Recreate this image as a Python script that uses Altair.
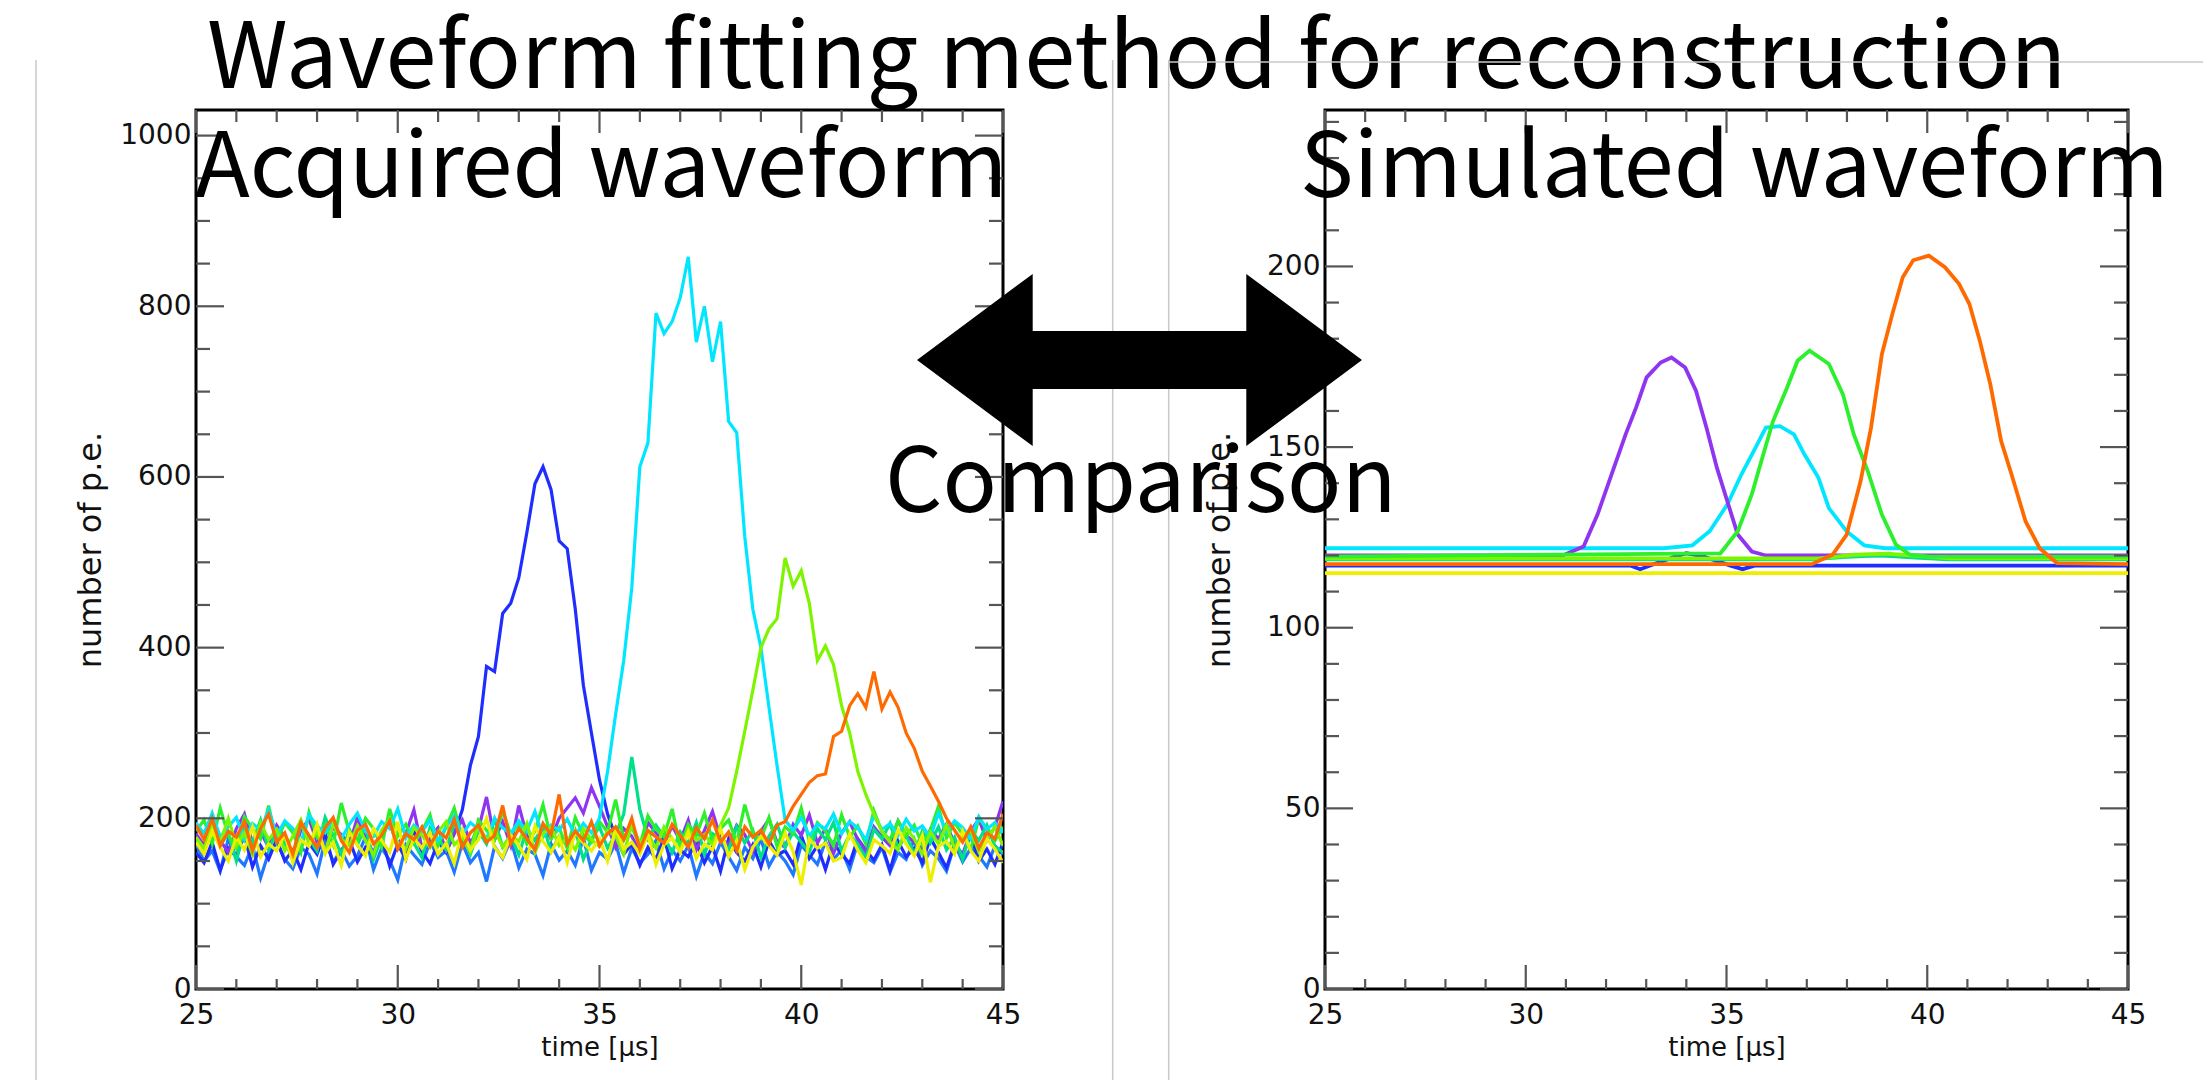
import altair as alt
import pandas as pd

# ---------------- data ----------------
SERIES = ["azure", "blue", "purple", "teal", "green", "cyan", "yellowgreen", "yellow", "orange"]
COLORS = ["#1f78ff", "#1f2eff", "#8f35f0", "#00e08a", "#2cf02c", "#00e6ff", "#7ef500", "#eeee00", "#ff6a00"]

LEFT_T0 = 25.0
LEFT_STEP = 0.2

LEFT_PURPLE = [182, 168, 195, 174, 160, 188, 205, 171, 184, 166,
               192, 178, 158, 186, 199, 172, 163, 190, 181, 169,
               201, 176, 160, 185, 194, 170, 182, 210, 165, 178,
               189, 162, 183, 198, 171, 187, 225, 175, 196, 168,
               215, 180, 165, 192, 176, 200, 212, 224, 206, 236,
               214, 190, 166, 188, 179, 160, 195, 183, 170, 191,
               174, 198, 163, 186, 208, 177, 169, 192, 181, 161,
               185, 199, 172, 166, 193, 180, 204, 171, 188, 159,
               183, 196, 175, 162, 190, 178, 168, 197, 180, 172,
               164, 187, 176, 193, 170, 158, 185, 199, 174, 190, 220]
LEFT_BLUE = [160, 148, 172, 139, 165, 155, 180, 143, 168, 152,
             175, 150, 163, 140, 171, 158, 183, 146, 162, 175,
             149, 166, 157, 178, 144, 170, 152, 185, 161, 147,
             173, 160,
             182, 210, 262, 296, 378, 372, 440, 452, 482, 535, 592, 612, 585, 525, 516, 445, 356, 300, 245, 205, 178,
             158, 170, 145, 166, 152, 178, 141,
             163, 155, 172, 148, 167, 138, 176, 160, 150, 169,
             143, 174, 157, 162, 146, 180, 153, 168, 140, 171,
             158, 147, 176, 163, 151, 169, 139, 173, 155, 165,
             148, 177, 160, 142, 170, 156, 181, 150, 164, 146, 172]
LEFT_AZURE = [170, 150, 162, 138, 176, 155, 145, 168, 130, 160,
              172, 152, 141, 166, 158, 135, 174, 149, 163, 144,
              156, 178, 140, 165, 151, 128, 169, 157, 146, 173,
              154, 162, 137, 171, 148, 160, 126, 167, 153, 175,
              142, 164, 158, 133, 170, 151, 162, 145, 177, 139,
              160, 152, 171, 136, 165, 148, 158, 174, 141, 163,
              150, 168, 132, 160, 147, 172, 155, 139, 166, 153,
              176, 144, 161, 150, 134, 169, 157, 146, 173, 152,
              163, 140, 171, 155, 148, 166, 137, 160, 152, 175,
              145, 162, 153, 138, 170, 149, 165, 156, 143, 168, 158]
LEFT_CYAN = [195, 182, 206, 178, 190, 201, 175, 194, 186, 210,
             180, 197, 188, 172, 204, 191, 183, 199, 176, 193,
             206, 185, 179, 196, 188, 211, 177, 192, 184, 198,
             174, 190, 203, 181, 195, 187, 176, 200, 189, 182,
             197, 185, 208, 178, 192, 186, 199, 180, 194, 183,
             200, 255, 322, 385, 470, 612, 640, 792, 768, 782, 810, 858,
             758, 800, 735, 782, 665, 652, 530, 445, 400, 330, 262, 198,
             186, 201, 179, 193, 188, 205,
             182, 196, 189, 175, 203, 187, 194, 180, 199, 185,
             191, 178, 206, 184, 197, 189, 176, 202, 187, 195, 183]
LEFT_TEAL = [175, 160, 192, 168, 183, 150, 188, 172, 198, 163,
             185, 170, 155, 193, 176, 162, 201, 180, 158, 187,
             169, 190, 152, 178, 196, 165, 183, 171, 154, 189,
             176, 163, 194, 181, 158, 185, 170, 199, 166, 180,
             157, 188, 174, 192, 161, 179, 168, 186, 152, 176,
             190, 165, 181, 205, 272, 210, 176, 192, 178, 160,
             184, 170, 195, 158, 182, 176, 163, 190, 171, 186,
             154, 179, 193, 166, 184, 172, 160, 188, 175, 195,
             162, 181, 170, 153, 187, 176, 194, 165, 180, 158,
             185, 171, 190, 163, 178, 152, 186, 174, 192, 167, 160]
LEFT_GREEN = [185, 198, 170, 212, 180, 165, 202, 188, 176, 215,
              172, 195, 183, 160, 207, 178, 192, 169, 218, 184,
              174, 200, 188, 166, 211, 179, 193, 171, 185, 204,
              168, 190, 212, 177, 163, 198, 186, 175, 209, 181,
              194, 170, 185, 216, 176, 189, 165, 201, 180, 172,
              196, 184, 222, 175, 190, 168, 203, 187, 179, 211,
              166, 193, 180, 206, 174, 188, 198, 171, 216, 183,
              176, 201, 167, 190, 182, 212, 173, 195, 185, 168,
              204, 178, 191, 170, 209, 184, 175, 197, 180, 192,
              169, 186, 214, 177, 195, 181, 163, 200, 188, 174, 190]
LEFT_YELLOWGREEN = [178, 165, 190, 172, 200, 168, 183, 158, 195, 175,
                    187, 162, 179, 198, 170, 185, 160, 193, 176, 168,
                    191, 174, 157, 186, 199, 171, 164, 189, 180, 166,
                    184, 196, 169, 178, 161, 192, 175, 187, 166, 180,
                    173, 194, 160, 182, 190, 168, 177, 163, 188, 175,
                    167, 185, 179, 158, 193, 171, 182, 165, 190, 176,
                    162, 187, 174, 181, 169,
                    192, 212, 255, 302, 350, 400, 422, 434, 505, 472, 490,
                    452, 385, 402, 380, 332, 300, 255, 228, 205, 185,
                    172, 163, 189, 176, 158, 184, 170, 192, 165, 179, 186, 161, 175, 190, 168]
LEFT_YELLOW = [172, 158, 185, 166, 150, 178, 163, 190, 155, 170,
               162, 181, 148, 175, 167, 193, 159, 172, 145, 184,
               169, 156, 188, 174, 160, 196, 152, 177, 165, 183,
               158, 171, 147, 186, 163, 175, 200, 166, 154, 180,
               168, 152, 191, 173, 160, 178, 148, 185, 171, 162,
               176, 150, 188, 164, 172, 158, 181, 146, 169, 177,
               160, 184, 153, 170, 163, 188, 155, 174, 140, 166,
               179, 168, 157, 183, 161, 122, 176, 165, 171, 150,
               154, 182, 163, 148, 175, 168, 159, 187, 170, 156,
               180, 125, 167, 173, 158, 185, 162, 150, 176, 164, 148]
LEFT_ORANGE = [192, 175, 200, 168, 185, 178, 196, 162, 188, 205,
               172, 183, 158, 195, 180, 166, 189, 201, 174, 160,
               186, 193, 170, 180, 197, 164, 182, 175, 190, 168,
               185, 177, 199, 166, 183, 192, 172, 180, 215, 170,
               188, 176, 163, 194, 181, 228, 170, 185, 174, 196,
               168, 182, 190, 175, 200, 164, 186, 178, 171, 193,
               180, 166, 189, 176, 198, 172, 184, 162, 190, 178,
               186, 170, 192,
               196, 214, 228, 242, 250, 252, 296, 302, 332, 346, 330,
               372, 328, 348, 330, 300, 282, 255, 238, 220, 200, 186,
               172, 190, 165, 183, 176, 205]

LEFT_DATA = [("azure", LEFT_AZURE), ("blue", LEFT_BLUE), ("purple", LEFT_PURPLE),
             ("teal", LEFT_TEAL), ("green", LEFT_GREEN), ("cyan", LEFT_CYAN),
             ("yellowgreen", LEFT_YELLOWGREEN), ("yellow", LEFT_YELLOW), ("orange", LEFT_ORANGE)]

# simulated (fitted) waveforms: (time, value) points
RIGHT_CYAN_T = [25, 33.44, 34.15, 34.58, 35.02, 35.37, 35.72, 35.98, 36.33, 36.68, 36.94, 37.29, 37.55, 37.99, 38.43, 38.95, 45]
RIGHT_CYAN_V = [122, 122, 122.8, 126.7, 134.1, 142.4, 149.8, 155.4, 155.8, 153.5, 148, 141.5, 133.1, 126.7, 122.8, 122, 122]
RIGHT_PURPLE_T = [25, 30.92, 31.44, 31.79, 32.14, 32.49, 32.75, 33.01, 33.36, 33.63, 33.97, 34.24, 34.5, 34.76, 35.02, 35.28, 35.63, 35.98, 45]
RIGHT_PURPLE_V = [120, 120, 122.5, 131.4, 142.5, 153.6, 161, 169.3, 173.4, 174.8, 172, 165.6, 155.4, 144.3, 135, 125.8, 121.1, 120, 120]
RIGHT_GREEN_T = [25, 34.85, 35.28, 35.63, 35.89, 36.16, 36.51, 36.77, 37.07, 37.55, 37.9, 38.17, 38.52, 38.87, 39.22, 39.57, 40.0, 45]
RIGHT_GREEN_V = [119.7, 120.6, 126.7, 136.9, 147, 157.2, 166.5, 173.9, 176.7, 173, 164.6, 153.5, 143.3, 131.3, 123, 120.2, 119.7, 119.7]
RIGHT_ORANGE_T = [25, 37.12, 37.64, 37.99, 38.34, 38.6, 38.87, 39.13, 39.39, 39.65, 40.04, 40.44, 40.79, 41.05, 41.31, 41.57, 41.84, 42.1, 42.45, 42.8, 43.23, 45]
RIGHT_ORANGE_V = [117.6, 117.6, 120.2, 125.7, 140.6, 155.4, 175.7, 186.8, 197, 201.7, 203, 199.8, 195.2, 189.6, 179.4, 167.4, 151.7, 142.4, 129.4, 122, 117.9, 117.6]
RIGHT_BLUE_T = [25, 32.6, 32.85, 33.1, 33.7, 34.0, 34.4, 35.1, 35.4, 35.7, 45]
RIGHT_BLUE_V = [117.2, 117.2, 116.2, 117.2, 119.6, 120.6, 119.8, 117.2, 116.2, 117.2, 117.2]
RIGHT_TEAL_T = [25, 37.1, 38.0, 38.8, 39.6, 40.5, 45]
RIGHT_TEAL_V = [118.9, 118.9, 119.6, 120.0, 119.5, 118.9, 118.9]
RIGHT_YELLOWGREEN_T = [25, 37.3, 38.2, 39.0, 39.8, 40.6, 45]
RIGHT_YELLOWGREEN_V = [119.2, 119.2, 120.2, 120.5, 119.8, 119.2, 119.2]
RIGHT_YELLOW_T = [25, 45]
RIGHT_YELLOW_V = [115.1, 115.1]

RIGHT_DATA = [("blue", RIGHT_BLUE_T, RIGHT_BLUE_V), ("cyan", RIGHT_CYAN_T, RIGHT_CYAN_V),
              ("purple", RIGHT_PURPLE_T, RIGHT_PURPLE_V), ("teal", RIGHT_TEAL_T, RIGHT_TEAL_V),
              ("yellowgreen", RIGHT_YELLOWGREEN_T, RIGHT_YELLOWGREEN_V), ("green", RIGHT_GREEN_T, RIGHT_GREEN_V),
              ("yellow", RIGHT_YELLOW_T, RIGHT_YELLOW_V), ("orange", RIGHT_ORANGE_T, RIGHT_ORANGE_V)]

X_MAJOR = [25, 30, 35, 40, 45]
X_MINOR = [26, 27, 28, 29, 31, 32, 33, 34, 36, 37, 38, 39, 41, 42, 43, 44]
LEFT_Y_MAJOR = [0, 200, 400, 600, 800, 1000]
LEFT_Y_MINOR = [50, 100, 150, 250, 300, 350, 450, 500, 550, 650, 700, 750, 850, 900, 950]
RIGHT_Y_MAJOR = [0, 50, 100, 150, 200]
RIGHT_Y_MINOR = [10, 20, 30, 40, 60, 70, 80, 90, 110, 120, 130, 140, 160, 170, 180, 190, 210, 220, 230, 240]

TITLE = "Waveform fitting method for reconstruction"
LEFT_LABEL = "Acquired waveform"
RIGHT_LABEL = "Simulated waveform"
MIDDLE_LABEL = "Comparison"
X_TITLE = "time [µs]"
Y_TITLE = "number of p.e."

# ---------------- layout / style ----------------
W_L, W_R, H = 807, 803, 879
SPACING = 322
LEFT_Y_DOMAIN = [0, 1030]
RIGHT_Y_DOMAIN = [0, 243.3]
FONT_TEXT = "Noto Sans CJK JP"
FONT_AXIS = "DejaVu Sans"
TITLE_SIZE = 92
TEXT_SIZE = 90
TICK_STYLE = dict(color="#555555", strokeWidth=2.2)
GRAY = "#c8c8c8"

ARROW_PATH = ("M -1 0 L -0.48 -0.387 L -0.48 -0.13 L 0.48 -0.13 L 0.48 -0.387 "
              "L 1 0 L 0.48 0.387 L 0.48 0.13 L -0.48 0.13 L -0.48 0.387 Z")

color_enc = alt.Color("series:N", scale=alt.Scale(domain=SERIES, range=COLORS), legend=None)


def x_enc():
    return alt.X("time:Q", scale=alt.Scale(domain=[25, 45], nice=False, zero=False),
                 axis=alt.Axis(values=X_MAJOR, title=X_TITLE, grid=False, ticks=False, tickSize=0,
                               domain=False, labelFont=FONT_AXIS, labelFontSize=28, labelColor="#111",
                               labelPadding=12, labelFlush=False, titleFont=FONT_AXIS, titleFontSize=26,
                               titleFontWeight="normal", titleColor="#111", titlePadding=5,
                               minExtent=40, maxExtent=40, format="d"))


def y_enc(domain, values):
    return alt.Y("value:Q", scale=alt.Scale(domain=domain, nice=False, zero=False),
                 axis=alt.Axis(values=values, title=Y_TITLE, grid=False, ticks=False, tickSize=0,
                               domain=False, labelFont=FONT_AXIS, labelFontSize=28, labelColor="#111",
                               labelPadding=5, labelFlush=False, titleFont=FONT_AXIS, titleFontSize=32,
                               titleFontWeight="normal", titleColor="#111", titlePadding=19,
                               minExtent=70, maxExtent=70, format="d"))


def tick_layers(width, ydom, y_major, y_minor):
    ymaj = pd.DataFrame({"value": y_major})
    ymin = pd.DataFrame({"value": y_minor})
    xmaj = pd.DataFrame({"time": X_MAJOR})
    xmin = pd.DataFrame({"time": X_MINOR})
    Y = lambda: y_enc(ydom, y_major)
    return [
        alt.Chart(ymaj).mark_rule(**TICK_STYLE).encode(y=Y(), x=alt.value(0), x2=alt.value(28)),
        alt.Chart(ymin).mark_rule(**TICK_STYLE).encode(y=Y(), x=alt.value(0), x2=alt.value(14)),
        alt.Chart(ymaj).mark_rule(**TICK_STYLE).encode(y=Y(), x=alt.value(width - 28), x2=alt.value(width)),
        alt.Chart(ymin).mark_rule(**TICK_STYLE).encode(y=Y(), x=alt.value(width - 14), x2=alt.value(width)),
        alt.Chart(xmaj).mark_rule(**TICK_STYLE).encode(x=x_enc(), y=alt.value(H - 24), y2=alt.value(H)),
        alt.Chart(xmin).mark_rule(**TICK_STYLE).encode(x=x_enc(), y=alt.value(H - 10), y2=alt.value(H)),
        alt.Chart(xmaj).mark_rule(**TICK_STYLE).encode(x=x_enc(), y=alt.value(0), y2=alt.value(23)),
        alt.Chart(xmin).mark_rule(**TICK_STYLE).encode(x=x_enc(), y=alt.value(0), y2=alt.value(12)),
    ]


def text_layer(s, x, y, size=TEXT_SIZE):
    return alt.Chart(pd.DataFrame({"label": [s]})).mark_text(
        font=FONT_TEXT, fontSize=size, align="left", baseline="alphabetic", color="black"
    ).encode(text="label:N", x=alt.value(x), y=alt.value(y))


def vline(x, y1, y2):
    return alt.Chart(pd.DataFrame({"a": [0]})).mark_rule(color=GRAY, strokeWidth=1.5).encode(
        x=alt.value(x), y=alt.value(y1), y2=alt.value(y2))


def hline(y, x1, x2):
    return alt.Chart(pd.DataFrame({"a": [0]})).mark_rule(color=GRAY, strokeWidth=1.5).encode(
        y=alt.value(y), x=alt.value(x1), x2=alt.value(x2))


# ---------------- left panel ----------------
left_rows = []
for name, vals in LEFT_DATA:
    for i, v in enumerate(vals):
        left_rows.append({"series": name, "time": round(LEFT_T0 + LEFT_STEP * i, 1), "value": v})
left_df = pd.DataFrame(left_rows)

left_lines = alt.Chart(left_df).mark_line(strokeWidth=3.2, clip=True).encode(
    x=x_enc(), y=y_enc(LEFT_Y_DOMAIN, LEFT_Y_MAJOR), color=color_enc)

pin = alt.Chart(pd.DataFrame({"a": [0]})).mark_rule(opacity=0, strokeWidth=0.1).encode(
    x=alt.value(-194), x2=alt.value(-190), y=alt.value(-108))

left = alt.layer(
    pin,
    vline(-160, -50, 970),
    left_lines,
    *tick_layers(W_L, LEFT_Y_DOMAIN, LEFT_Y_MAJOR, LEFT_Y_MINOR),
    text_layer(TITLE, 11, -22, TITLE_SIZE),
    text_layer(LEFT_LABEL, -1, 87),
).properties(width=W_L, height=H)

# ---------------- right panel ----------------
right_rows = []
for name, ts, vs in RIGHT_DATA:
    for t, v in zip(ts, vs):
        right_rows.append({"series": name, "time": t, "value": v})
right_df = pd.DataFrame(right_rows)

right_lines = alt.Chart(right_df).mark_line(strokeWidth=3.8, clip=True).encode(
    x=x_enc(), y=y_enc(RIGHT_Y_DOMAIN, RIGHT_Y_MAJOR), color=color_enc)

arrow = alt.Chart(pd.DataFrame({"a": [0]})).mark_point(
    shape=ARROW_PATH, size=198025, filled=True, color="black", opacity=1, strokeWidth=0
).encode(x=alt.value(-185.5), y=alt.value(250))

right = alt.layer(
    vline(-212.3, -50, 970),
    vline(-156.3, -50, 970),
    hline(-48, -156.3, 878),
    right_lines,
    *tick_layers(W_R, RIGHT_Y_DOMAIN, RIGHT_Y_MAJOR, RIGHT_Y_MINOR),
    text_layer(RIGHT_LABEL, -25, 87),
    arrow,
    text_layer(MIDDLE_LABEL, -440, 402),
).properties(width=W_R, height=H)

chart = alt.hconcat(left, right, spacing=SPACING, bounds="flush").resolve_scale(
    x="independent", y="independent", color="shared"
).properties(padding=0, background="white").configure_view(stroke="black", strokeWidth=3)

chart.save("out.html", embed_options={"renderer": "svg", "actions": False})
